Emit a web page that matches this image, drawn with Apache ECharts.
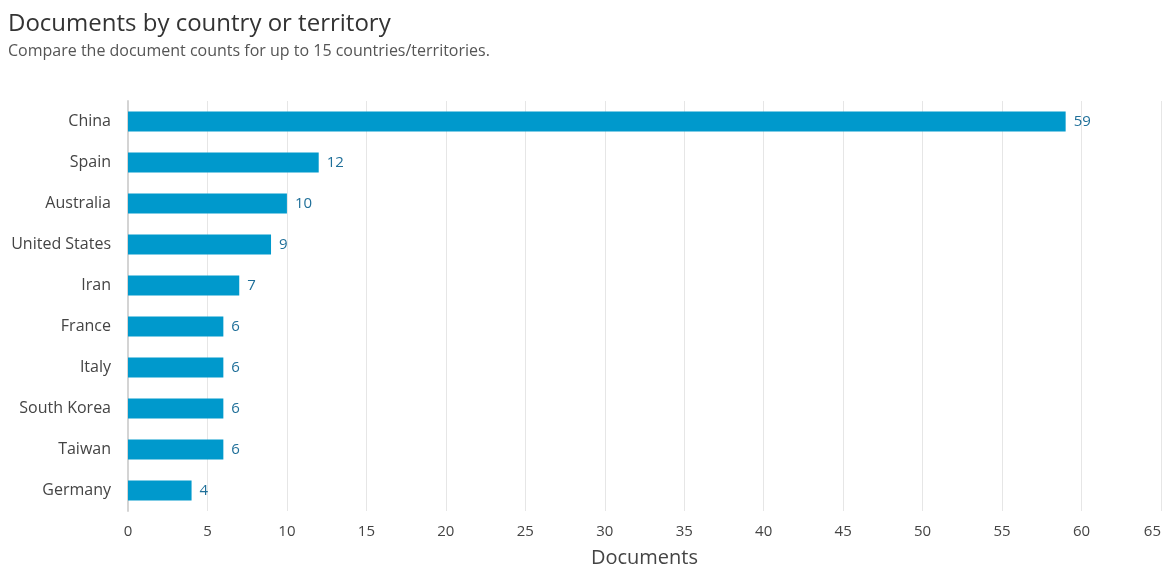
<!DOCTYPE html>
<html><head><meta charset="utf-8">
<script src="https://cdn.jsdelivr.net/npm/echarts@6/dist/echarts.min.js"></script>
<style>html,body{margin:0;padding:0;background:#fff}#c{width:1165px;height:567px}</style>
</head><body><div id="c"></div>
<script>
const categories = ["China","Spain","Australia","United States","Iran","France","Italy","South Korea","Taiwan","Germany"];
const values = [59,12,10,9,7,6,6,6,6,4];
const FONT = "'Open Sans', sans-serif";
const chart = echarts.init(document.getElementById('c'));
chart.setOption({
  animation:false,
  title:{
    text:"Documents by country or territory",
    subtext:"Compare the document counts for up to 15 countries/territories.",
    left:3, top:7, itemGap:7,
    textStyle:{fontFamily:FONT,fontSize:24,fontWeight:'normal',color:'#333'},
    subtextStyle:{fontFamily:FONT,fontSize:16,color:'#555'}
  },
  grid:{left:128,right:4,top:101,bottom:56,containLabel:false,outerBoundsMode:'none'},
  xAxis:{
    type:'value',min:0,max:65,interval:5,
    name:'Documents',nameLocation:'middle',nameGap:37,
    nameTextStyle:{fontFamily:FONT,fontSize:20,color:'#444'},
    axisLine:{show:false},axisTick:{show:false},
    axisLabel:{fontFamily:FONT,fontSize:15,color:'#444',margin:13,alignMaxLabel:'right'},
    splitLine:{lineStyle:{color:'#e6e6e6'}}
  },
  yAxis:{
    type:'category',data:categories,inverse:true,
    axisLine:{show:true,lineStyle:{color:'#d4d4d4',width:2}},
    axisTick:{show:false},
    axisLabel:{fontFamily:FONT,fontSize:16,color:'#444',margin:17}
  },
  series:[{
    type:'bar',data:values,barWidth:20,
    itemStyle:{color:'#0099cc'},
    label:{show:true,position:'right',distance:8,fontFamily:FONT,fontSize:15,color:'#1f6f99'}
  }]
});
</script></body></html>
